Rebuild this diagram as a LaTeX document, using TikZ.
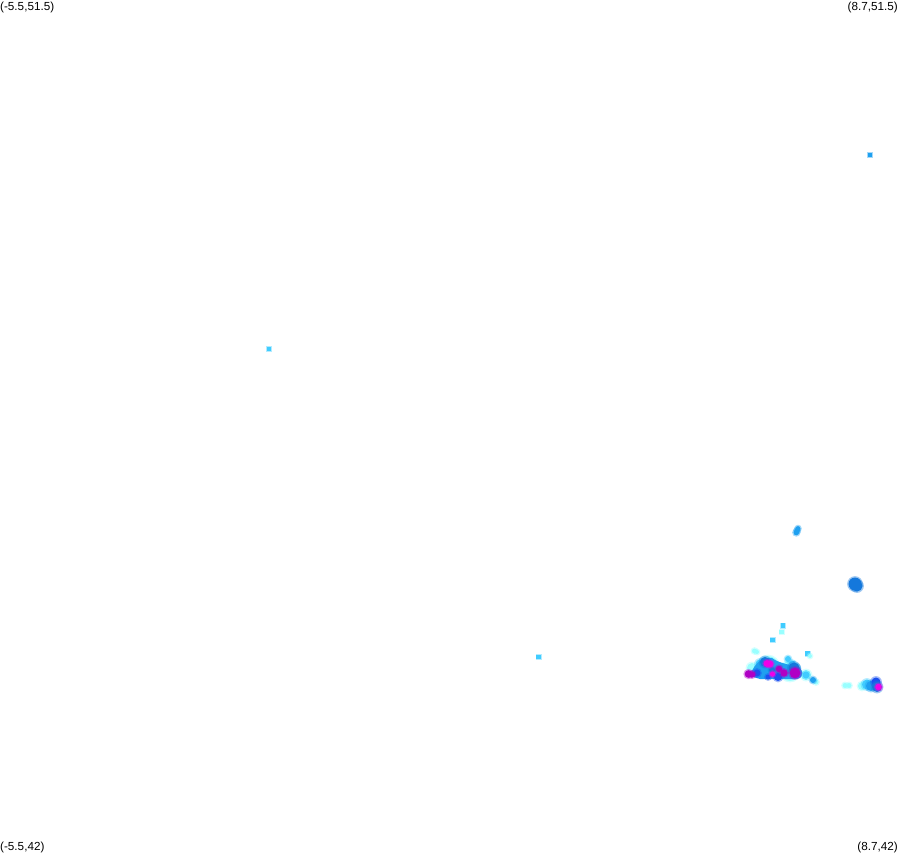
\documentclass[tikz,border=0pt]{standalone}
\usepackage{fontspec}
\setmainfont{Liberation Sans}
\definecolor{pale}{HTML}{99FFFF}
\definecolor{light}{HTML}{40CCFF}
\definecolor{mid}{HTML}{1FA0F0}
\definecolor{deep}{HTML}{1478DC}
\definecolor{vivid}{HTML}{1A50F0}
\definecolor{mag}{HTML}{F000E8}
\definecolor{purp}{HTML}{B000C4}
\tikzset{
  lab/.style={inner sep=0pt,font=\fontsize{11.7}{11.7}\selectfont,text=black},
  sq/.style={fill=#1,draw=none},
  halo/.style={fill=#1,draw=none,opacity=.4},
}
\newcommand{\dotsq}[3]{\fill[halo=#3] (#1-3,#2-3) rectangle (#1+3,#2+3); \fill[sq=#3] (#1-2.2,#2-2.2) rectangle (#1+2.2,#2+2.2);}
\newcommand{\blob}[4]{\fill[halo=#4] (#1,#2) circle ({#3+1.4}); \fill[sq=#4] (#1,#2) circle (#3);}
\begin{document}
\begin{tikzpicture}[x=1pt,y=-1pt]
\useasboundingbox (0,0) rectangle (899,852);
\node[lab,anchor=base west] (tl) at (0,10.5) {(-5.5,51.5)};
\node[lab,anchor=base east] (tr) at (898,10.5) {(8.7,51.5)};
\node[lab,anchor=base west] (bl) at (0,850.5) {(-5.5,42)};
\node[lab,anchor=base east] (br) at (898,850.5) {(8.7,42)};
% isolated points
\dotsq{870}{155}{mid}
\dotsq{269}{349}{light}
\dotsq{538.5}{657}{light}
\dotsq{783}{625.5}{light}
\dotsq{781.5}{632}{pale}
\dotsq{772.5}{640}{light}
\dotsq{807.5}{653.5}{light}
% upper clusters
\blob{796.3}{532.5}{2.8}{mid}
\blob{797.2}{530.5}{2.6}{mid}
\blob{798}{528.5}{2.4}{mid}
\blob{855}{584}{6.5}{deep}
\blob{857}{586}{5.5}{deep}
% main cluster, pale fringe
\blob{754.5}{651}{2.5}{pale}
\blob{757}{652}{2}{pale}
\blob{810}{656}{2}{pale}
\blob{752}{668}{5}{pale}
\blob{768}{667}{11}{pale}
\blob{790}{671}{10}{pale}
\blob{806}{675}{5}{pale}
\blob{816}{682}{2.5}{pale}
% main cluster, light
\blob{788}{659}{3}{light}
\blob{792}{664}{3.5}{light}
\blob{760}{664}{4.5}{light}
\blob{813}{680}{3}{mid}
\blob{806}{675}{3.5}{light}
\fill[sq=mid] (750,676) .. controls (755,660) and (765,657) .. (772,658)
   .. controls (780,664) and (790,664) .. (800,668)
   .. controls (806,676) and (800,680) .. (792,679)
   -- (760,679) -- cycle;
\blob{795}{669}{5}{mid}
% main cluster, blue
\blob{757}{673}{3.5}{vivid}
\blob{765}{662}{5}{deep}
\blob{772}{670}{3}{deep}
\blob{778}{677}{4}{vivid}
\blob{768}{677}{2.5}{vivid}
\blob{794}{668}{5.5}{deep}
% main cluster, magenta
\blob{748.5}{674}{3.8}{purp}
\blob{752}{674.5}{3.2}{purp}
\blob{767}{663.5}{3.4}{mag}
\blob{770}{664}{3.4}{mag}
\blob{772.5}{674}{2.6}{mag}
\blob{779}{669}{3.2}{purp}
\blob{784}{673}{3.6}{purp}
\blob{795}{673}{5.4}{purp}
% right cluster
\blob{845}{685.5}{2.5}{pale}
\blob{849}{685.5}{2.5}{pale}
\blob{862}{686}{4}{pale}
\blob{867}{684.5}{5}{light}
\blob{871}{686}{5}{mid}
\blob{876}{682}{4.5}{vivid}
\blob{877}{687}{5}{deep}
\blob{878.5}{687}{3.2}{mag}
\end{tikzpicture}
\end{document}
